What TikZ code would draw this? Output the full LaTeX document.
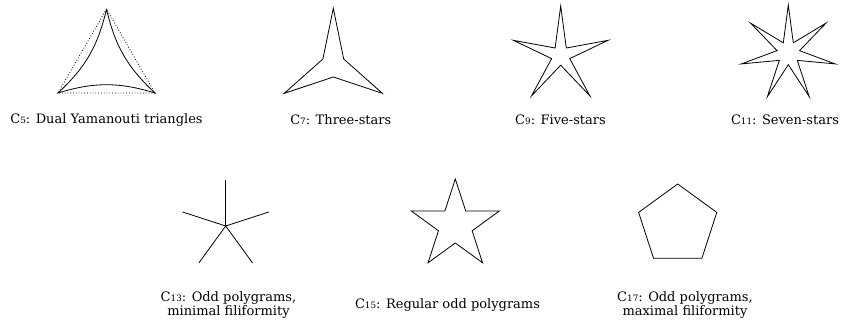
\documentclass[tikz,border=0pt]{standalone}
\usepackage{fontspec}
\setmainfont{DejaVu Serif}
\usepackage{tikz}
\usetikzlibrary{positioning}

\newcommand{\clab}[1]{C{\fontsize{8.8}{8.8}\selectfont #1}}

\begin{document}
\begin{tikzpicture}[
    x=1pt, y=1pt,
    fig/.style={draw=black, line width=0.8pt, line join=miter},
    dotline/.style={draw=black, line width=0.8pt, dotted},
    lbl/.style={font=\fontsize{13}{14}\selectfont, align=center, inner sep=0pt}
]
\useasboundingbox (0,0) rectangle (844,321);

% C5: dual triangles
\coordinate (tt) at (106.5,312);
\coordinate (tl) at (58,228);
\coordinate (tr) at (155,228);
\draw[dotline] (tt) -- (tl) -- (tr) -- cycle;
\draw[fig] (tt) to[bend left=17] (tl) to[bend left=17] (tr) to[bend left=17] (tt);

% C7: three-star
\draw[fig, shift={(333.3,256)}]
    plot[samples at={0,...,5}] (\x*60+90:{ifthenelse(mod(\x,2)==0,56.7,12)}) -- cycle;

% C9: five-star
\draw[fig, shift={(560.7,265.3)}]
    plot[samples at={0,...,9}] (\x*36+90:{ifthenelse(mod(\x,2)==0,49.7,9.5)}) -- cycle;

% C11: seven-star
\draw[fig, shift={(788.3,267.8)}]
    plot[samples at={0,...,13}] (\x*360/14+90:{ifthenelse(mod(\x,2)==0,48.2,11.5)}) -- cycle;

% C13: five spokes
\coordinate (hub) at (225.7,95);
\foreach \a in {90,162,234,306,18}
    \draw[fig] (hub) -- ++(\a:45.5);

% C15: regular star
\draw[fig, shift={(455.3,95.7)}]
    plot[samples at={0,...,9}] (\x*36+90:{ifthenelse(mod(\x,2)==0,46.3,17.7)}) -- cycle;

% C17: pentagon
\draw[fig, shift={(677.7,95.9)}]
    plot[samples at={0,...,4}] (\x*72+90:41.1) -- cycle;

% labels
\node[lbl] (l5)  at (106.5,201) {\clab{5}: Dual Yamanouti triangles};
\node[lbl] (l7)  at (340.8,201) {\clab{7}: Three-stars};
\node[lbl] (l9)  at (560.5,201) {\clab{9}: Five-stars};
\node[lbl] (l11) at (785,201)   {\clab{11}: Seven-stars};
\node[lbl] (l13) at (228.5,16)  {\clab{13}: Odd polygrams,\\minimal filiformity};
\node[lbl] (l15) at (447.5,16)  {\clab{15}: Regular odd polygrams};
\node[lbl] (l17) at (685,16)    {\clab{17}: Odd polygrams,\\maximal filiformity};
\end{tikzpicture}
\end{document}
